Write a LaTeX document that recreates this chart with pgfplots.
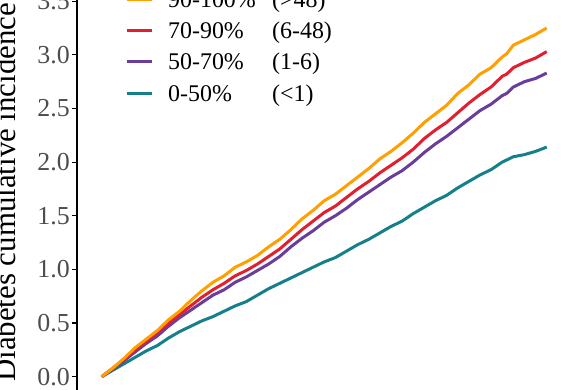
\documentclass[border=0pt]{standalone}
\usepackage{pgfplots}
\pgfplotsset{compat=1.18}
\usepackage{fontspec}
\setmainfont{Liberation Serif}
\definecolor{cOr}{HTML}{FFA000}
\definecolor{cRe}{HTML}{E0202E}
\definecolor{cPu}{HTML}{6A3D9A}
\definecolor{cTe}{HTML}{16808A}
\definecolor{tickgray}{HTML}{4D4D4D}
\begin{document}
\begin{tikzpicture}
\begin{axis}[
  scale only axis, width=508bp, height=390bp,
  xmin=-0.555, xmax=10.86, ymin=-0.124, ymax=3.511,
  axis x line=none, axis y line*=left,
  y axis line style={line width=1.2bp, -},
  ytick={0,0.5,1,1.5,2,2.5,3,3.5},
  tick align=outside, major tick length=5bp,
  ytick style={black, line width=1.2bp},
  yticklabel style={font=\fontsize{26}{26}\selectfont, text=tickgray, inner sep=2bp},
  /pgf/number format/.cd, fixed, fixed zerofill, precision=1, assume math mode=true,
  /pgfplots/.cd,
  ylabel={Diabetes cumulative incidence},
  every axis y label/.style={at={(axis description cs:-0.122,0.0205)}, rotate=90, anchor=base west, inner sep=0bp, font=\fontsize{31}{31}\selectfont},
  legend style={at={(axis description cs:0,1)}, anchor=north west, xshift=48bp, yshift=11bp,
    draw=none, fill=none, inner xsep=0bp, inner ysep=0bp,
    font=\fontsize{24}{24}\selectfont, row sep=7.3bp, column sep=15bp,
    nodes={inner sep=0bp, text height=18bp, text depth=6bp}},
  legend cell align=left,
  legend image code/.code={\draw[#1, line width=3bp] (0bp,2bp) -- (25bp,2bp);},
  reverse legend,
  every axis plot/.append style={line width=3bp, line join=round},
]
\addplot[cTe] coordinates {(0,0) (0.25,0.06) (0.5,0.12) (0.75,0.18) (1,0.24) (1.25,0.29) (1.5,0.36) (1.75,0.42) (2,0.47) (2.25,0.52) (2.5,0.56) (2.75,0.61) (3,0.66) (3.25,0.70) (3.5,0.76) (3.75,0.82) (4,0.87) (4.25,0.92) (4.5,0.97) (4.75,1.02) (5,1.07) (5.25,1.11) (5.5,1.17) (5.75,1.23) (6,1.28) (6.25,1.34) (6.5,1.40) (6.75,1.45) (7,1.52) (7.25,1.58) (7.5,1.64) (7.75,1.69) (8,1.76) (8.25,1.82) (8.5,1.88) (8.75,1.93) (9,2.00) (9.25,2.05) (9.5,2.07) (9.75,2.10) (10,2.14)};
\addlegendentry{\makebox[104bp][l]{0-50\%}(<1)}
\addplot[cPu] coordinates {(0,0) (0.25,0.07) (0.5,0.15) (0.75,0.23) (1,0.31) (1.25,0.38) (1.5,0.47) (1.75,0.55) (2,0.62) (2.25,0.69) (2.5,0.76) (2.75,0.81) (3,0.88) (3.25,0.93) (3.5,0.99) (3.75,1.05) (4,1.12) (4.25,1.21) (4.5,1.29) (4.75,1.36) (5,1.44) (5.25,1.50) (5.5,1.57) (5.75,1.65) (6,1.72) (6.25,1.79) (6.5,1.86) (6.75,1.92) (7,2.00) (7.25,2.09) (7.5,2.17) (7.75,2.24) (8,2.32) (8.25,2.40) (8.5,2.48) (8.75,2.54) (9,2.62) (9.1,2.64) (9.25,2.70) (9.5,2.75) (9.75,2.78) (10,2.83)};
\addlegendentry{\makebox[104bp][l]{50-70\%}(1-6)}
\addplot[cRe] coordinates {(0,0) (0.25,0.08) (0.5,0.16) (0.75,0.25) (1,0.33) (1.25,0.41) (1.5,0.50) (1.75,0.58) (2,0.66) (2.25,0.74) (2.5,0.81) (2.75,0.87) (3,0.94) (3.25,0.99) (3.5,1.05) (3.75,1.12) (4,1.19) (4.25,1.28) (4.5,1.37) (4.75,1.45) (5,1.53) (5.25,1.59) (5.5,1.67) (5.75,1.75) (6,1.82) (6.25,1.90) (6.5,1.97) (6.75,2.04) (7,2.12) (7.25,2.22) (7.5,2.30) (7.75,2.37) (8,2.46) (8.25,2.55) (8.5,2.63) (8.75,2.70) (9,2.80) (9.1,2.82) (9.25,2.88) (9.5,2.93) (9.75,2.97) (10,3.03)};
\addlegendentry{\makebox[104bp][l]{70-90\%}(6-48)}
\addplot[cOr] coordinates {(0,0) (0.25,0.08) (0.5,0.17) (0.75,0.27) (1,0.35) (1.25,0.43) (1.5,0.53) (1.75,0.61) (2,0.71) (2.25,0.80) (2.5,0.88) (2.75,0.94) (3,1.02) (3.25,1.07) (3.5,1.13) (3.75,1.21) (4,1.28) (4.25,1.37) (4.5,1.47) (4.75,1.55) (5,1.64) (5.25,1.70) (5.5,1.78) (5.75,1.86) (6,1.94) (6.25,2.03) (6.5,2.10) (6.75,2.18) (7,2.27) (7.25,2.37) (7.5,2.45) (7.75,2.53) (8,2.64) (8.25,2.72) (8.5,2.82) (8.75,2.88) (9,2.98) (9.1,3.01) (9.25,3.09) (9.5,3.14) (9.75,3.19) (10,3.25)};
\addlegendentry{\makebox[104bp][l]{90-100\%}(>48)}
\coordinate (A) at (axis description cs:0,0);
\coordinate (B) at (axis description cs:1,1);
\end{axis}
\pgfresetboundingbox
\path[use as bounding box] ([xshift=-77bp]A) rectangle (B);
\end{tikzpicture}
\end{document}
